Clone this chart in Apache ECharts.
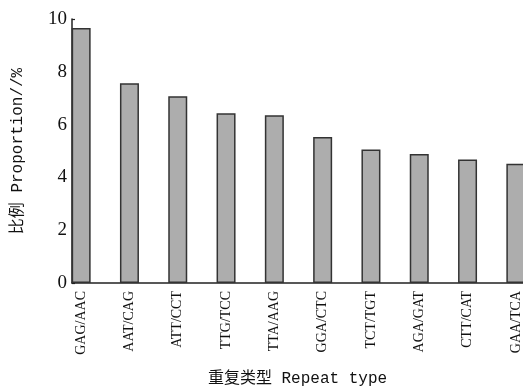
<!DOCTYPE html>
<html><head><meta charset="utf-8">
<script src="https://cdn.jsdelivr.net/npm/echarts@6/dist/echarts.min.js"></script>
<style>html,body{margin:0;padding:0;background:#fff}#c{width:523px;height:389px}</style>
</head><body><div id="c"></div>
<script>
var categories = ['GAG/AAC','AAT/CAG','ATT/CCT','TTG/TCC','TTA/AAG','GGA/CTC','TCT/TGT','AGA/GAT','CTT/CAT','GAA/TCA'];
var proportions = [9.66, 7.57, 7.07, 6.43, 6.35, 5.53, 5.06, 4.89, 4.68, 4.52];
var yTicks = [0, 2, 4, 6, 8, 10];
var yName = '比例 Proportion//%';
var xName = '重复类型 Repeat type';

var serif = "'Liberation Serif','DejaVu Serif',serif";
var mono = "'Liberation Mono','Noto Sans CJK SC',monospace";
var chart = echarts.init(document.getElementById('c'), null, {renderer:'canvas'});
chart.setOption({
  animation:false,
  backgroundColor:'#fff',
  grid:[
    {left:57, right:-17, top:19, bottom:106, outerBoundsMode:'none', containLabel:false},
    {left:72, right:0, top:19, bottom:106, outerBoundsMode:'none', containLabel:false}
  ],
  xAxis:[
    {type:'category', gridIndex:0, data:categories, boundaryGap:true,
     axisLine:{show:false}, axisTick:{show:false},
     axisLabel:{rotate:90, fontFamily:serif, fontSize:14, color:'#111', margin:8, interval:0}},
    {type:'value', gridIndex:1, min:0, max:1,
     axisLine:{show:true, lineStyle:{color:'#222', width:1.5}}, axisTick:{show:false},
     axisLabel:{show:false}, splitLine:{show:false},
     name:xName, nameLocation:'middle', nameGap:88,
     nameTextStyle:{fontFamily:mono, fontSize:16, color:'#111'}}
  ],
  yAxis:[
    {type:'value', gridIndex:0, min:0, max:10, interval:2, show:false},
    {type:'value', gridIndex:1, min:yTicks[0], max:yTicks[yTicks.length-1], interval:2,
     axisLine:{show:true, lineStyle:{color:'#222', width:1.5}},
     axisTick:{show:true, inside:true, length:3, lineStyle:{color:'#222', width:1.2}},
     axisLabel:{fontFamily:serif, fontSize:19, color:'#111', margin:5},
     splitLine:{show:false},
     name:yName, nameLocation:'middle', nameGap:46, nameRotate:90,
     nameTextStyle:{fontFamily:mono, fontSize:16, color:'#111'}}
  ],
  series:[{
    type:'bar', xAxisIndex:0, yAxisIndex:0, data:proportions, barWidth:19,
    itemStyle:{color:'#adadad', borderColor:'#333', borderWidth:1.5}
  }]
});
</script></body></html>
